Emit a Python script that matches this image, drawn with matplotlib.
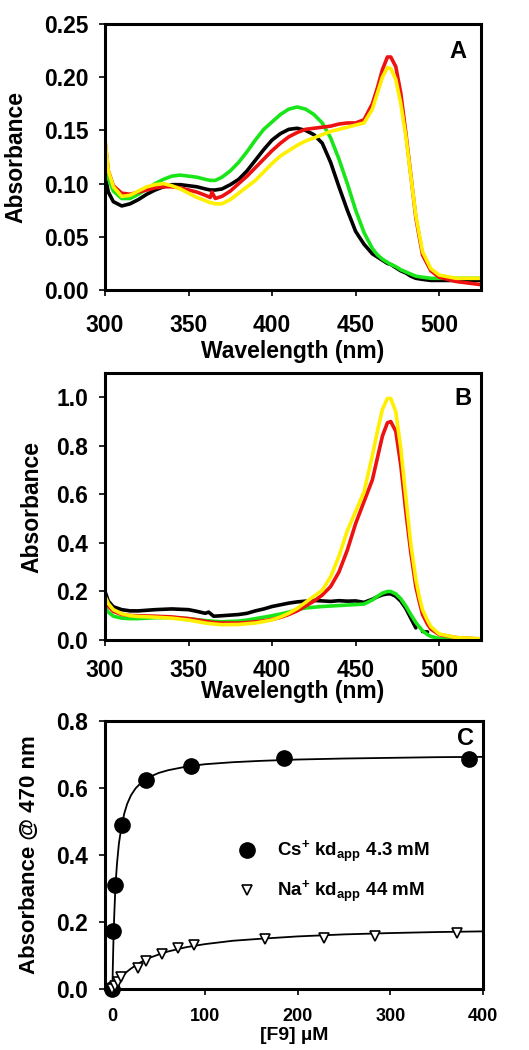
import numpy as np
import matplotlib
matplotlib.use("Agg")
import matplotlib.pyplot as plt

plt.rcParams['font.family'] = ['Liberation Sans', 'DejaVu Sans']
plt.rcParams['font.weight'] = 'bold'
plt.rcParams['mathtext.fontset'] = 'custom'
plt.rcParams['mathtext.rm'] = 'Liberation Sans'
plt.rcParams['mathtext.bf'] = 'Liberation Sans:bold'
plt.rcParams['mathtext.it'] = 'Liberation Sans:italic'

nan = np.nan

# ---------------- Panel A ----------------
wlA = [300, 302, 305, 310, 315, 320, 325, 330, 335, 340, 345, 350, 355, 360, 363, 364, 366, 370, 375, 380,
       385, 390, 395, 400, 405, 410, 415, 420, 425, 430, 435, 440, 445, 450, 455, 460, 463, 466, 469, 471,
       474, 477, 480, 483, 486, 490, 495, 500, 510, 525]
a_black = [.108, .092, .083, .079, .081, .085, .090, .094, .097, .099, .099, .098, .097, .095, .094, .094, .094, .095, .099, .104,
           .112, .122, .132, .141, .147, .151, .152, .150, .146, .138, .120, .097, .075, .055, .043, .034, .031, .028, .025, .024,
           .021, .018, .016, .013, .011, .010, .009, .009, .009, .009]
a_green = [.135, .105, .093, .086, .086, .090, .095, .100, .104, .107, .108, .107, .106, .104, .103, .103, .103, .106, .112, .120,
           .130, .141, .151, .158, .165, .170, .172, .170, .165, .157, .143, .123, .100, .075, .054, .039, .033, .029, .026, .024,
           .022, .019, .017, .015, .013, .012, .011, .011, .011, .011]
a_red = [.140, .112, .098, .091, .090, .092, .094, .096, .097, .097, .096, .094, .092, .089, .087, .092, .086, .088, .093, .100,
         .107, .115, .123, .131, .138, .144, .148, .151, .152, .153, .154, .156, .157, .157, .160, .175, .190, .207, .219, .219,
         .210, .185, .148, .108, .068, .033, .018, .012, .008, .005]
a_yellow = [.142, .112, .097, .088, .089, .093, .097, .099, .100, .098, .095, .091, .087, .084, .082, .082, .081, .081, .085, .091,
            .097, .103, .111, .119, .126, .131, .136, .140, .143, .146, .149, .151, .153, .155, .157, .170, .185, .200, .209, .208,
            .198, .175, .145, .107, .070, .036, .020, .014, .011, .011]

# ---------------- Panel B ----------------
wlB = [300, 302, 305, 310, 315, 320, 330, 340, 350, 355, 360, 362, 365, 370, 380, 385, 390, 395, 400, 405,
       410, 415, 420, 425, 430, 435, 440, 445, 450, 455, 460, 463, 466, 469, 471, 474, 477, 480, 483, 486,
       488, 490, 493, 495, 500, 510, 525]
b_black = [.20, .16, .137, .125, .12, .12, .125, .128, .125, .118, .11, .115, .098, .10, .105, .11, .12, .128, .138, .145,
           .152, .157, .16, .163, .161, .159, .162, .16, .161, .155, .168, .178, .186, .19, .19, .18, .16, .13, .09, .05,
           nan, .035, .033, nan, nan, nan, nan]
b_green = [.137, .115, .098, .090, .088, .088, .092, .092, .088, .084, .080, .079, .077, .075, .078, .082, .088, .094, .100, .107,
           .115, .125, .132, .135, .138, .140, .142, .144, .146, .148, .165, .180, .193, .200, .200, .190, .170, .140, .105, .072,
           .055, .038, .022, .015, .006, .002, .001]
b_red = [.17, .14, .118, .105, .101, .100, .098, .095, .088, .083, .077, .075, .072, .070, .070, .072, .075, .079, .085, .093,
         .105, .12, .14, .16, .185, .22, .28, .37, .48, .57, .66, .75, .84, .895, .90, .86, .72, .53, .36, .22,
         .16, .105, .065, .045, .022, .010, .004]
b_yellow = [.18, .15, .125, .108, .100, .097, .094, .090, .082, .076, .070, .068, .066, .063, .064, .067, .070, .076, .083, .095,
            .110, .130, .155, .180, .205, .260, .345, .450, .530, .610, .760, .860, .950, .995, .995, .940, .790, .590, .395, .250,
            .180, .125, .080, .055, .025, .010, .005]

# ---------------- Panel C ----------------
cs_x = [0, 1.1, 3.2, 10.5, 36, 85, 185, 385]
cs_y = [0.0, 0.174, 0.31, 0.489, 0.625, 0.665, 0.69, 0.688]
na_x = [0, 3, 5.5, 9, 28, 36, 54, 71, 88, 165, 228, 283, 372]
na_y = [0.0, 0.01, 0.022, 0.035, 0.063, 0.084, 0.103, 0.121, 0.130, 0.150, 0.153, 0.158, 0.168]
cs_fit_x = [0, 0.5, 1, 1.5, 2, 3, 4, 5, 7, 10, 13, 16, 20, 25, 30, 40, 50, 60, 80, 100, 130, 160, 200, 250, 300, 350, 400]
cs_fit_y = [0, .073, .132, .181, .222, .288, .337, .376, .434, .489, .526, .553, .578, .599, .613, .633, .645, .653, .664,
            .671, .677, .681, .685, .688, .690, .692, .693]
na_fit_x = [0, 5, 10, 15, 20, 30, 40, 50, 60, 80, 100, 130, 160, 200, 250, 300, 350, 400]
na_fit_y = [0, .020, .0365, .050, .061, .079, .093, .103, .112, .125, .134, .144, .150, .157, .163, .167, .170, .172]
legend_labels = [r'Cs$^{\mathbf{+}}$ kd$_{\mathrm{app}}$ 4.3 mM', r'Na$^{\mathbf{+}}$ kd$_{\mathrm{app}}$ 44 mM']

C_BLACK = '#000000'
C_GREEN = '#19e619'
C_RED = '#ee1111'
C_YELLOW = '#ffef00'

W, H = 529, 1050
fig = plt.figure(figsize=(W / 100, H / 100), dpi=100)

def px_axes(left, right, top, bottom):
    return fig.add_axes([left / W, 1 - bottom / H, (right - left) / W, (bottom - top) / H])

axA = px_axes(105, 481, 24, 290)
axB = px_axes(105, 481, 373, 640)
axC = px_axes(105, 483, 721, 989)

TICK_FS = 16.5
LABEL_FS = 16.5

def style(ax):
    for s in ax.spines.values():
        s.set_linewidth(2.2)
    ax.tick_params(direction='out', length=4, width=1.2, labelsize=TICK_FS)
    for lab in ax.get_xticklabels() + ax.get_yticklabels():
        lab.set_fontweight('bold')

lw = 2.6
for ax, wl, curves in [(axA, wlA, [a_black, a_green, a_red, a_yellow]),
                       (axB, wlB, [b_black, b_green, b_red, b_yellow])]:
    for y, c in zip(curves, [C_BLACK, C_GREEN, C_RED, C_YELLOW]):
        ax.plot(wl, y, color=c, lw=lw, solid_joinstyle='round', solid_capstyle='round')
    ax.set_xlim(300, 525)
    ax.set_xticks([300, 350, 400, 450, 500])
    ax.set_xlabel('Wavelength (nm)', fontsize=LABEL_FS, fontweight='bold', va='top')
    ax.set_ylabel('Absorbance', fontsize=LABEL_FS, fontweight='bold')
    style(ax)

axA.set_ylim(0, 0.25)
axA.set_yticks([0, 0.05, 0.10, 0.15, 0.20, 0.25])
axA.set_yticklabels(['0.00', '0.05', '0.10', '0.15', '0.20', '0.25'])
axA.tick_params(axis='x', pad=13)
axA.tick_params(axis='y', pad=8)
axA.xaxis.set_label_coords(0.5, -0.188)
axA.yaxis.set_label_coords(-0.205, 0.5)
axA.text(0.939, 0.895, 'A', transform=axA.transAxes, ha='center', va='center', fontsize=17, fontweight='bold')

axB.set_ylim(0, 1.1)
axB.set_yticks([0, 0.2, 0.4, 0.6, 0.8, 1.0])
axB.set_yticklabels(['0.0', '0.2', '0.4', '0.6', '0.8', '1.0'])
axB.tick_params(axis='x', pad=10)
axB.tick_params(axis='y', pad=8)
axB.xaxis.set_label_coords(0.5, -0.150)
axB.yaxis.set_label_coords(-0.165, 0.5)
axB.text(0.952, 0.906, 'B', transform=axB.transAxes, ha='center', va='center', fontsize=17, fontweight='bold')

# Panel C
axC.plot(cs_fit_x, cs_fit_y, color='black', lw=1.3)
axC.plot(na_fit_x, na_fit_y, color='black', lw=1.3)
h1, = axC.plot(cs_x, cs_y, 'o', color='black', markersize=11, clip_on=False, zorder=5)
h2, = axC.plot(na_x, na_y, 'v', markerfacecolor='white', markeredgecolor='black', markeredgewidth=1.2,
               markersize=7, clip_on=False, zorder=5)
axC.set_xlim(-8, 400)
axC.set_ylim(0, 0.8)
axC.set_xticks([0, 100, 200, 300, 400])
axC.set_yticks([0, 0.2, 0.4, 0.6, 0.8])
axC.set_yticklabels(['0.0', '0.2', '0.4', '0.6', '0.8'])
style(axC)
axC.tick_params(axis='x', labelsize=13, pad=10)
axC.tick_params(axis='y', pad=8)
axC.set_xlabel('[F9] µM', fontsize=14, fontweight='bold', va='top')
axC.set_ylabel('Absorbance @ 470 nm', fontsize=16, fontweight='bold')
axC.xaxis.set_label_coords(0.5, -0.142)
axC.yaxis.set_label_coords(-0.172, 0.5)
axC.text(0.955, 0.935, 'C', transform=axC.transAxes, ha='center', va='center', fontsize=17, fontweight='bold')
leg = axC.legend([h1, h2], legend_labels, loc='upper left', bbox_to_anchor=(0.351, 0.56),
                 frameon=False, borderpad=0, borderaxespad=0, handlelength=1.0, handletextpad=1.1,
                 labelspacing=0.75, prop={'size': 13.5, 'weight': 'bold'})

fig.savefig('out.png', dpi=100)
